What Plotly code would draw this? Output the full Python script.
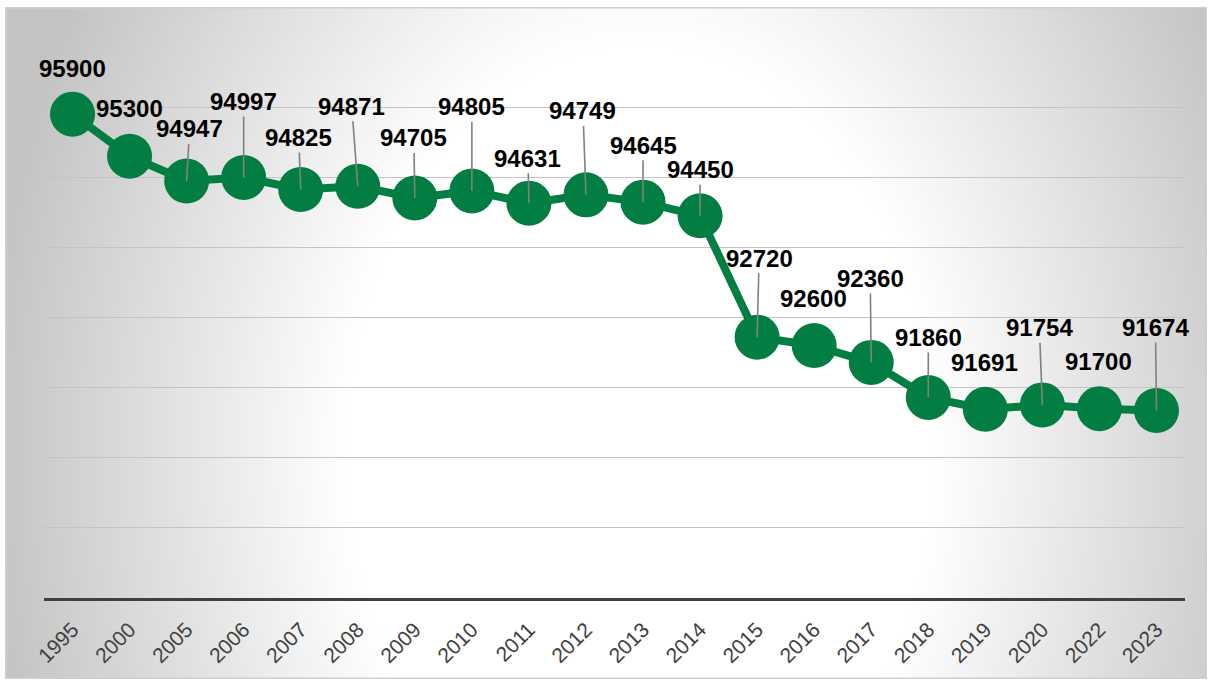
import base64
import plotly.graph_objects as go

years = ["1995", "2000", "2005", "2006", "2007", "2008", "2009", "2010", "2011", "2012",
         "2013", "2014", "2015", "2016", "2017", "2018", "2019", "2020", "2022", "2023"]
values = [95900, 95300, 94947, 94997, 94825, 94871, 94705, 94805, 94631, 94749,
          94645, 94450, 92720, 92600, 92360, 91860, 91691, 91754, 91700, 91674]
# label offsets in pixels (dx, dy) and whether a leader line is drawn
label_dx = [0, 0, 3, 0, -2, -6, -1, 0, -1, -3, 0, 0, 2, -1, -1, 0, -1, -3, -1, -1]
label_dy = [-46, -48, -52, -76, -52, -80, -60, -84, -45, -84, -57, -46, -79, -47, -84, -60, -47, -77, -47, -83]
leader = [False, False, True, True, True, True, True, True, True, True,
          True, True, True, False, True, True, False, True, False, True]

GREEN = "#037E42"
FONT = "Liberation Sans"

L, R, T, B = 44, 26, 37, 84
W, H = 1211, 682
pw, ph = W - L - R, H - T - B
bx0, by0, bw, bh = 5, 7, 1202, 672
cx, cy = 635, 443
svg = (f'<svg xmlns="http://www.w3.org/2000/svg" width="{bw}" height="{bh}" viewBox="0 0 {bw} {bh}" preserveAspectRatio="none">'
       f'<defs><radialGradient id="g" gradientUnits="userSpaceOnUse" cx="{cx}" cy="{cy}" r="650" '
       f'gradientTransform="translate({cx},{cy}) scale(1,1.38) translate({-cx},{-cy})">'
       '<stop offset="0" stop-color="#ffffff"/><stop offset="0.45" stop-color="#ffffff"/>'
       '<stop offset="1" stop-color="#c4c4c4"/></radialGradient></defs>'
       f'<rect x="0.75" y="0.75" width="{bw-1.5}" height="{bh-1.5}" fill="url(#g)" stroke="#cfcfcf" stroke-width="1.5"/></svg>')
src = "data:image/svg+xml;base64," + base64.b64encode(svg.encode()).decode()

fig = go.Figure()
fig.add_trace(go.Scatter(
    x=list(range(len(years))), y=values, mode="lines+markers",
    line=dict(color=GREEN, width=8),
    marker=dict(color=GREEN, size=45),
    hoverinfo="y", showlegend=False,
))

annotations = []
for i, (v, dx, dy, ln) in enumerate(zip(values, label_dx, label_dy, leader)):
    a = dict(x=i, y=v, xref="x", yref="y", text="<b>" + str(v) + "</b>",
             font=dict(family=FONT, size=24, color="black"))
    if ln:
        a.update(showarrow=True, ax=dx, ay=dy, arrowhead=0, arrowwidth=1.6, arrowcolor="#808080")
    else:
        a.update(showarrow=False, xshift=dx, yshift=-dy)
    annotations.append(a)

fig.update_layout(
    width=W, height=H,
    margin=dict(l=L, r=R, t=T, b=B),
    paper_bgcolor="white", plot_bgcolor="rgba(0,0,0,0)",
    annotations=annotations,
    images=[dict(source=src, xref="paper", yref="paper",
                 x=(bx0 - L) / pw, y=(H - B - by0) / ph,
                 sizex=bw / pw, sizey=bh / ph,
                 xanchor="left", yanchor="top", sizing="stretch", layer="below")],
    xaxis=dict(range=[-0.5, 19.5], showgrid=False, zeroline=False,
               tickmode="array", tickvals=list(range(len(years))), ticktext=years,
               showline=True, linecolor="#404040", linewidth=3,
               tickangle=-45, ticks="outside", ticklen=8, tickcolor="rgba(0,0,0,0)",
               tickfont=dict(family=FONT, size=21, color="#404040")),
    yaxis=dict(range=[89000, 97000], dtick=1000, tick0=89000, showgrid=True,
               gridcolor="#c4c4c4", gridwidth=1.3, zeroline=False, showticklabels=False),
)

fig.write_html("out.html", config={"displayModeBar": False},
               post_script="document.body.style.margin='0';")
